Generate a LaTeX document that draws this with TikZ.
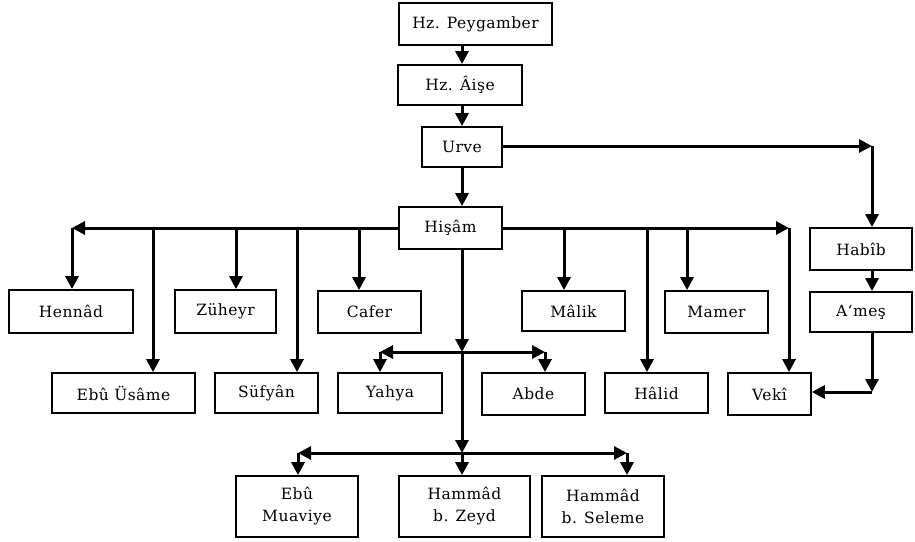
\documentclass[tikz,border=0pt]{standalone}
\usepackage{fontspec}
\setmainfont{DejaVu Serif}[LetterSpace=3]
\usetikzlibrary{arrows.meta}
\begin{document}
\begin{tikzpicture}[x=1pt,y=-1pt,
  box/.style={draw, line width=1.8pt, inner sep=0pt, align=center,
    font=\fontsize{15.5}{22}\selectfont},
  arr/.style={line width=3pt, -{Triangle[length=13pt,width=13pt]}}]
\useasboundingbox (0,0) rectangle (915,541);
% boxes
\node[box, minimum width=153, minimum height=42] (peyg) at (475.5,24) {Hz. Peygamber};
\node[box, minimum width=124, minimum height=40] (aise) at (460,85) {Hz. Âişe};
\node[box, minimum width=80, minimum height=40] (urve) at (462,147) {Urve};
\node[box, minimum width=103, minimum height=42] (hisam) at (450.5,228) {Hişâm};
\node[box, minimum width=102, minimum height=42] (habib) at (861,249) {Habîb};
\node[box, minimum width=102, minimum height=40] (ames) at (861,312) {A‘meş};
\node[box, minimum width=124, minimum height=43] (hennad) at (71,311.5) {Hennâd};
\node[box, minimum width=101, minimum height=43] (zuheyr) at (225.5,311.5) {Züheyr};
\node[box, minimum width=103, minimum height=42] (cafer) at (369.5,312) {Cafer};
\node[box, minimum width=103, minimum height=40] (malik) at (573.5,311) {Mâlik};
\node[box, minimum width=103, minimum height=42] (mamer) at (716.5,312) {Mamer};
\node[box, minimum width=143, minimum height=40] (ebuusame) at (123.5,393) {Ebû Üsâme};
\node[box, minimum width=103, minimum height=40] (sufyan) at (266.5,393) {Süfyân};
\node[box, minimum width=104, minimum height=40] (yahya) at (390,393) {Yahya};
\node[box, minimum width=103, minimum height=42] (abde) at (533.5,394) {Abde};
\node[box, minimum width=103, minimum height=40] (halid) at (656.5,393) {Hâlid};
\node[box, minimum width=83, minimum height=42] (veki) at (769.5,394) {Vekî};
\node[box, minimum width=122, minimum height=61] (muaviye) at (297,506.5) {Ebû\\Muaviye};
\node[box, minimum width=131, minimum height=61] (zeyd) at (464.5,506.5) {Hammâd\\b. Zeyd};
\node[box, minimum width=122, minimum height=61] (seleme) at (603,506.5) {Hammâd\\b. Seleme};
% coordinates
\coordinate (tk) at (462,0);
\coordinate (uc) at (872,146);
\coordinate (ac) at (872,392);
\coordinate (hl) at (72,228);
\coordinate (hr) at (789,228);
\coordinate (b1) at (153,228);
\coordinate (b2) at (236,228);
\coordinate (b3) at (297,228);
\coordinate (b4) at (359,228);
\coordinate (b5) at (564,228);
\coordinate (b6) at (647,228);
\coordinate (b7) at (687,228);
\coordinate (m1) at (462,352);
\coordinate (m1l) at (380,352);
\coordinate (m1r) at (545,352);
\coordinate (m2) at (462,453);
\coordinate (m2l) at (298,453);
\coordinate (m2r) at (627,453);
% main chain
\draw[arr] (peyg.south -| tk) -- (aise.north -| tk);
\draw[arr] (aise.south -| tk) -- (urve.north -| tk);
\draw[arr] (urve.south -| tk) -- (hisam.north -| tk);
% right branch
\draw[arr] (urve.east |- uc) -- (uc);
\draw[arr] (uc) -- (habib.north -| uc);
\draw[arr] (habib.south -| uc) -- (ames.north -| uc);
\draw[arr] (ames.south -| uc) -- (ac);
\draw[arr] (ac) -- (veki.east |- ac);
% Hisam line
\draw[arr] (hisam.west) -- (hl);
\draw[arr] (hisam.east) -- (hr);
\draw[arr] (hl) -- (hennad.north -| hl);
\draw[arr] (hr) -- (veki.north -| hr);
\draw[arr] (b1) -- (ebuusame.north -| b1);
\draw[arr] (b2) -- (zuheyr.north -| b2);
\draw[arr] (b3) -- (sufyan.north -| b3);
\draw[arr] (b4) -- (cafer.north -| b4);
\draw[arr] (b5) -- (malik.north -| b5);
\draw[arr] (b6) -- (halid.north -| b6);
\draw[arr] (b7) -- (mamer.north -| b7);
% trunk
\draw[arr] (hisam.south -| tk) -- (m1);
\draw[arr] (m1) -- (m1l);
\draw[arr] (m1) -- (m1r);
\draw[arr] (m1l) -- (yahya.north -| m1l);
\draw[arr] (m1r) -- (abde.north -| m1r);
\draw[arr] (m1) -- (m2);
\draw[arr] (m2) -- (m2l);
\draw[arr] (m2) -- (m2r);
\draw[arr] (m2l) -- (muaviye.north -| m2l);
\draw[arr] (m2r) -- (seleme.north -| m2r);
\draw[arr] (m2) -- (zeyd.north -| m2);
\end{tikzpicture}
\end{document}
